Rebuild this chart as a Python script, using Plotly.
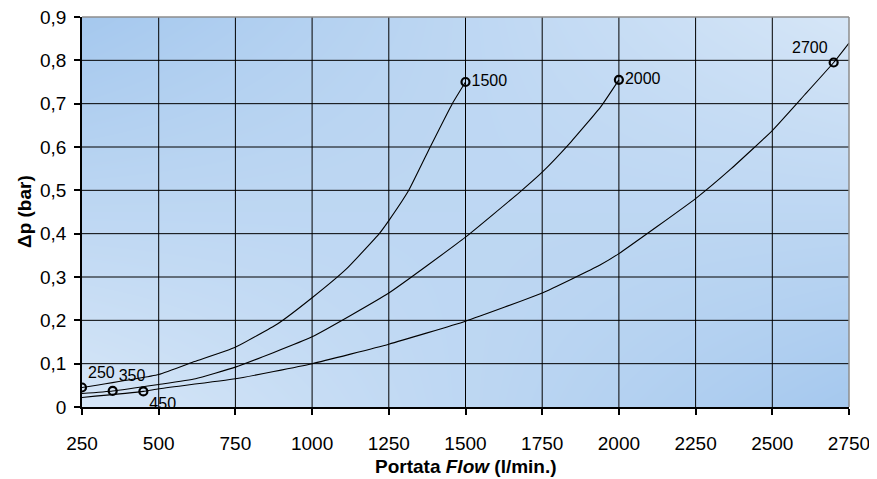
import plotly.graph_objects as go

# ---------------- data ----------------
x_ticks = [250, 500, 750, 1000, 1250, 1500, 1750, 2000, 2250, 2500, 2750]
y_ticks = [0, 0.1, 0.2, 0.3, 0.4, 0.5, 0.6, 0.7, 0.8, 0.9]
y_tick_labels = ["0", "0,1", "0,2", "0,3", "0,4", "0,5", "0,6", "0,7", "0,8", "0,9"]

curve_a_x = [250, 500, 617, 750, 888, 1000, 1111, 1219, 1250, 1315, 1385, 1457, 1500]
curve_a_y = [0.045, 0.075, 0.105, 0.138, 0.192, 0.252, 0.318, 0.400, 0.430, 0.500, 0.600, 0.700, 0.750]

curve_b_x = [250, 350, 500, 620, 750, 1000, 1250, 1500, 1677, 1750, 1844, 1940, 2000]
curve_b_y = [0.031, 0.037, 0.052, 0.065, 0.092, 0.162, 0.263, 0.392, 0.496, 0.542, 0.612, 0.692, 0.755]

curve_c_x = [250, 450, 500, 750, 1000, 1250, 1500, 1750, 1937, 2000, 2250, 2366, 2500, 2605, 2700, 2750]
curve_c_y = [0.022, 0.036, 0.042, 0.065, 0.100, 0.145, 0.198, 0.263, 0.327, 0.354, 0.481, 0.550, 0.638, 0.720, 0.795, 0.840]

point_x = [250, 350, 450, 1500, 2000, 2700]
point_y = [0.045, 0.037, 0.036, 0.750, 0.755, 0.795]
point_labels = ["250", "350", "450", "1500", "2000", "2700"]
point_label_pos = ["top right", "top right", "bottom right", "middle right", "middle right", "top left"]

x_title = "<b>Portata <i>Flow</i> (l/min.)</b>"
y_title = "<b>Δp (bar)</b>"

# ---------------- style ----------------
FONT = "Arial, Liberation Sans, sans-serif"
LIGHT = "#d6e6f7"
DARK = "#a5c8ee"
xmin, xmax = x_ticks[0], x_ticks[-1]
ymin, ymax = y_ticks[0], y_ticks[-1]

fig = go.Figure()

# gradient background (bilinear between corners)
fig.add_trace(go.Heatmap(
    x=[xmin, xmax], y=[ymin, ymax], z=[[0, 1], [1, 0]],
    zsmooth="best", showscale=False, hoverinfo="skip",
    colorscale=[[0, LIGHT], [1, DARK]], zmin=0, zmax=1,
))

# grid lines (above the background)
gx, gy = [], []
for v in x_ticks[1:-1]:
    gx += [v, v, None]
    gy += [ymin, ymax, None]
for v in y_ticks[1:-1]:
    gx += [xmin, xmax, None]
    gy += [v, v, None]
fig.add_trace(go.Scatter(x=gx, y=gy, mode="lines",
                         line=dict(color="#000000", width=1),
                         hoverinfo="skip", showlegend=False))

for cx, cy in [(curve_a_x, curve_a_y), (curve_b_x, curve_b_y), (curve_c_x, curve_c_y)]:
    fig.add_trace(go.Scatter(x=cx, y=cy, mode="lines",
                             line=dict(color="#000000", width=1.1, shape="spline", smoothing=0.4),
                             hoverinfo="skip", showlegend=False))

fig.add_trace(go.Scatter(
    x=point_x, y=point_y, mode="markers+text",
    text=point_labels, textposition=point_label_pos,
    textfont=dict(family=FONT, size=16, color="#000000"),
    marker=dict(symbol="circle-open", size=8, line=dict(color="#000000", width=2.2), color="#000000"),
    hoverinfo="skip", showlegend=False,
))

# grey top / right border
fig.add_shape(type="line", xref="x domain", yref="y domain", x0=0, x1=1, y0=1, y1=1,
              line=dict(color="#8c8c8c", width=1.5), layer="above")
fig.add_shape(type="line", xref="x domain", yref="y domain", x0=1, x1=1, y0=0, y1=1,
              line=dict(color="#8c8c8c", width=1.5), layer="above")

# axis titles
fig.add_annotation(text=x_title, xref="paper", yref="paper", x=0.5, y=0,
                   xanchor="center", yanchor="middle", yshift=-59, showarrow=False,
                   font=dict(family=FONT, size=19, color="#000000"))
fig.add_annotation(text=y_title, xref="paper", yref="paper", x=0, y=0.5, textangle=-90,
                   xanchor="center", yanchor="middle", xshift=-58, showarrow=False,
                   font=dict(family=FONT, size=19, color="#000000"))

# the page body adds an 8px margin, so the figure is 8px smaller each way
fig.update_layout(
    width=869, height=471,
    margin=dict(l=74, r=28, t=9, b=72),
    paper_bgcolor="#ffffff", plot_bgcolor="#ffffff",
    font=dict(family=FONT, size=19, color="#000000"),
    showlegend=False,
)
fig.update_xaxes(
    range=[xmin, xmax], tickvals=x_ticks, ticktext=[str(v) for v in x_ticks],
    showgrid=False, zeroline=False, showline=True, linecolor="#000000", linewidth=1.5,
    ticks="outside", ticklen=6, tickcolor="#000000", tickwidth=1.5,
    tickfont=dict(family=FONT, size=19, color="#000000"), ticklabelstandoff=12,
    ticklabeloverflow="allow", automargin=False, layer="above traces",
)
fig.update_yaxes(
    range=[ymin, ymax], tickvals=y_ticks, ticktext=y_tick_labels,
    showgrid=False, zeroline=False, showline=True, linecolor="#000000", linewidth=1.5,
    ticks="outside", ticklen=6, tickcolor="#000000", tickwidth=1.5,
    tickfont=dict(family=FONT, size=19, color="#000000"), ticklabelstandoff=4,
    ticklabeloverflow="allow", automargin=False, layer="above traces",
)

fig.write_html("out.html")
